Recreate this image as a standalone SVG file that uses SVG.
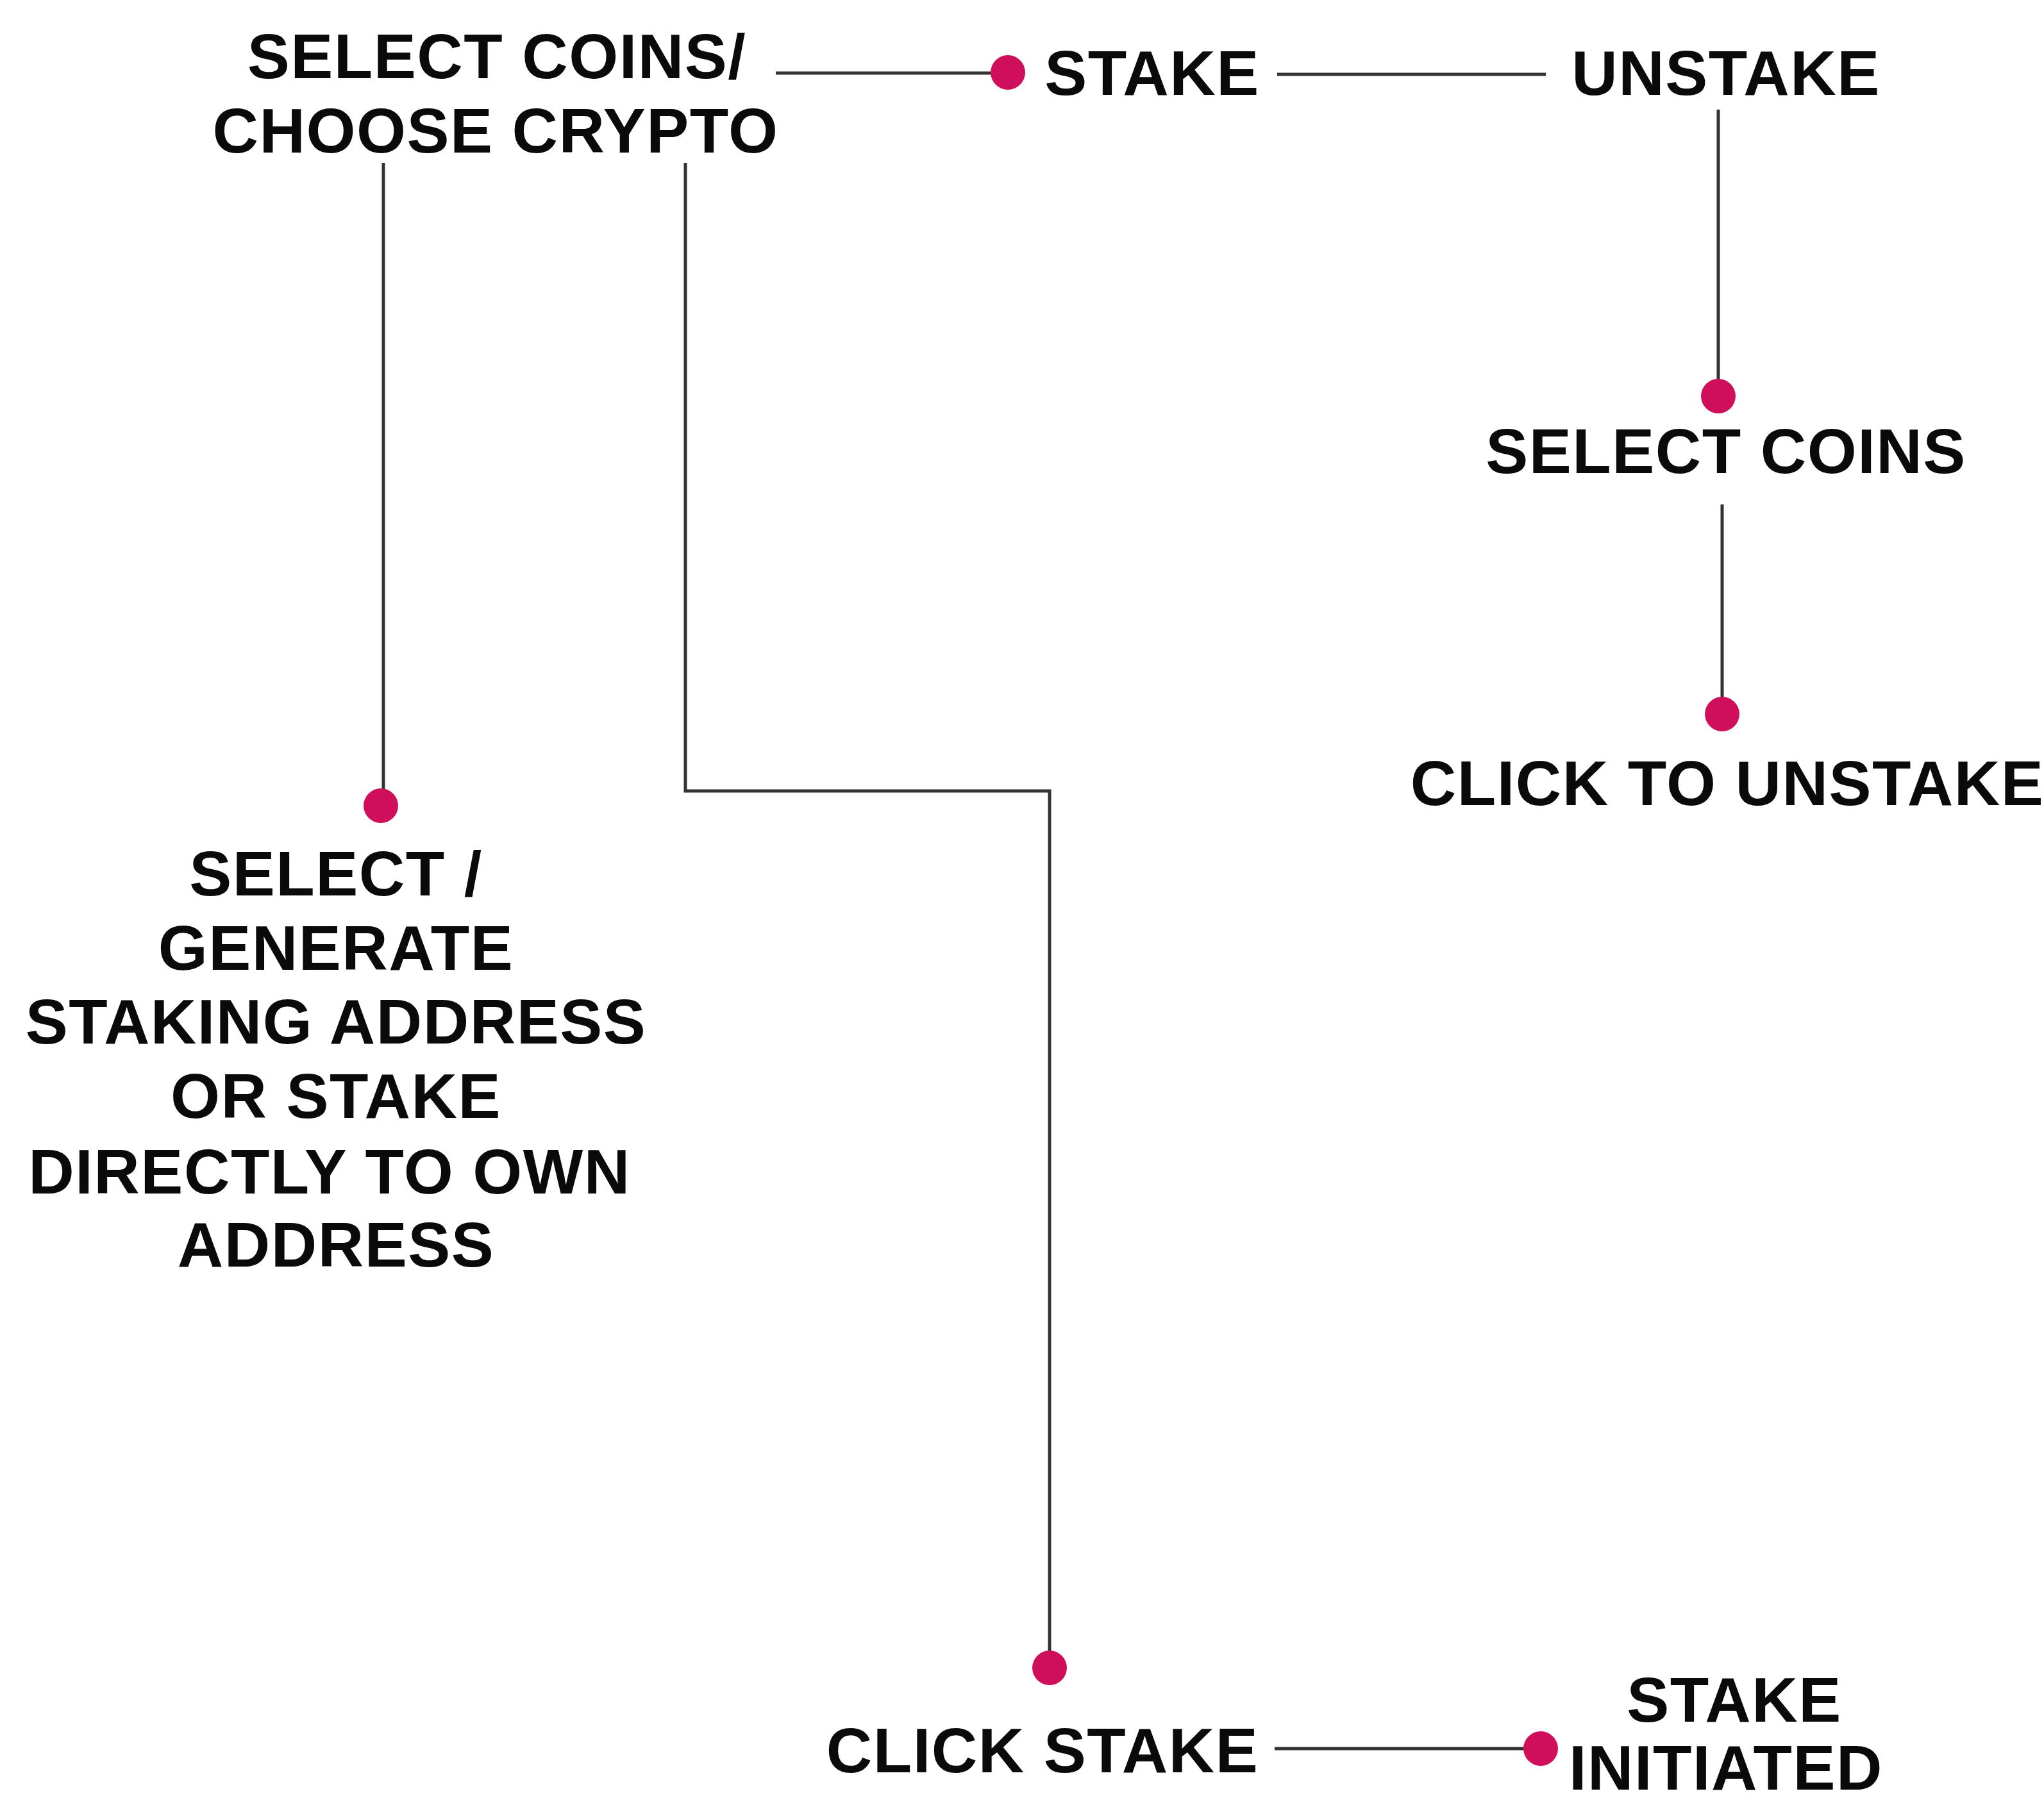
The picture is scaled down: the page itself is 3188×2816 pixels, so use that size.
<svg xmlns="http://www.w3.org/2000/svg" width="3188" height="2816" viewBox="0 0 3188 2816">
<style>
.t{font-family:"Liberation Sans",Arial,sans-serif;font-weight:bold;font-size:99px;fill:#0a0a0a;text-anchor:middle;letter-spacing:1.5px}
.c{fill:none;stroke:#333;stroke-width:5}
.d{fill:#CF0F5B}
</style>
<rect width="3188" height="2816" fill="#fff"/>
<g id="connectors">
<path class="c" d="M1210 114 H1565"/>
<path class="c" d="M1992 116 H2411"/>
<path class="c" d="M2680 171 V600"/>
<path class="c" d="M2686 787 V1095"/>
<path class="c" d="M598 254 V1240"/>
<path class="c" d="M1069 254 V1234 H1637 V2585"/>
<path class="c" d="M1988 2728 H2385"/>
</g>
<g id="n-select-coins-choose">
<text class="t" x="775" y="122">SELECT COINS/</text>
<text class="t" x="773" y="238">CHOOSE CRYPTO</text>
</g>
<g id="n-stake">
<circle class="d" cx="1572" cy="113" r="27"/>
<text class="t" x="1797" y="148">STAKE</text>
</g>
<g id="n-unstake">
<text class="t" x="2692" y="148">UNSTAKE</text>
</g>
<g id="n-select-coins">
<circle class="d" cx="2680" cy="618" r="27"/>
<text class="t" x="2692" y="738">SELECT COINS</text>
</g>
<g id="n-click-unstake">
<circle class="d" cx="2686" cy="1114" r="27"/>
<text class="t" x="2694" y="1256">CLICK TO UNSTAKE</text>
</g>
<g id="n-select-generate">
<circle class="d" cx="594" cy="1257" r="27"/>
<text class="t" x="524" y="1397">SELECT /</text>
<text class="t" x="524" y="1513">GENERATE</text>
<text class="t" x="524" y="1628">STAKING ADDRESS</text>
<text class="t" x="524" y="1744">OR STAKE</text>
<text class="t" x="514" y="1862">DIRECTLY TO OWN</text>
<text class="t" x="524" y="1976">ADDRESS</text>
</g>
<g id="n-click-stake">
<circle class="d" cx="1637" cy="2602" r="27"/>
<text class="t" x="1626" y="2765">CLICK STAKE</text>
</g>
<g id="n-stake-initiated">
<circle class="d" cx="2403" cy="2728" r="27"/>
<text class="t" x="2705" y="2686">STAKE</text>
<text class="t" x="2692" y="2792">INITIATED</text>
</g>
</svg>
